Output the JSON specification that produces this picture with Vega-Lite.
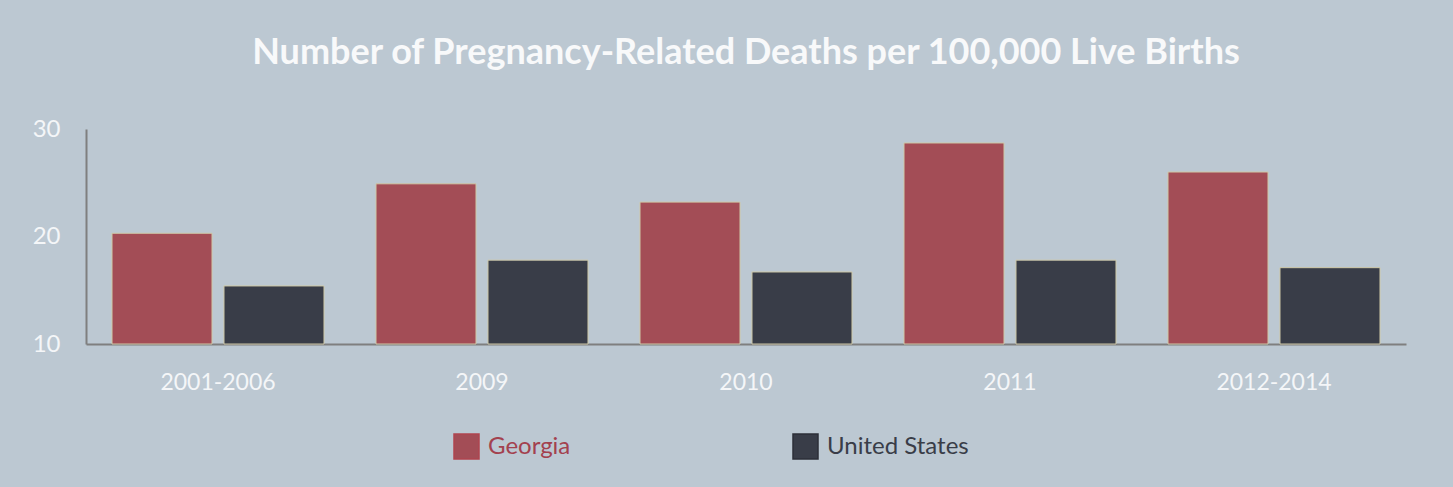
{
  "$schema": "https://vega.github.io/schema/vega-lite/v6.json",
  "autosize": "none",
  "width": 1320,
  "height": 215,
  "padding": {"left": 86, "top": 129, "right": 47, "bottom": 143},
  "background": "#bcc8d2",
  "title": {
    "text": "Number of Pregnancy-Related Deaths per 100,000 Live Births",
    "font": "Lato",
    "fontSize": 36,
    "fontWeight": "bold",
    "color": "#f8f9fa",
    "anchor": "middle",
    "baseline": "alphabetic",
    "offset": 17
  },
  "config": {
    "view": {"stroke": null},
    "font": "Lato"
  },
  "data": {
    "values": [
      {"period": "2001-2006", "region": "Georgia", "rate": 20.3},
      {"period": "2001-2006", "region": "United States", "rate": 15.4},
      {"period": "2009", "region": "Georgia", "rate": 24.9},
      {"period": "2009", "region": "United States", "rate": 17.8},
      {"period": "2010", "region": "Georgia", "rate": 23.2},
      {"period": "2010", "region": "United States", "rate": 16.7},
      {"period": "2011", "region": "Georgia", "rate": 28.7},
      {"period": "2011", "region": "United States", "rate": 17.8},
      {"period": "2012-2014", "region": "Georgia", "rate": 26.0},
      {"period": "2012-2014", "region": "United States", "rate": 17.1}
    ]
  },
  "mark": {"type": "bar", "stroke": "#cfc9a8", "strokeWidth": 1},
  "encoding": {
    "x": {
      "field": "period",
      "type": "nominal",
      "sort": null,
      "scale": {"paddingInner": 0.197, "paddingOuter": 0.0985},
      "axis": {
        "title": null,
        "labelAngle": 0,
        "labelFont": "Lato",
        "labelFontSize": 23,
        "labelColor": "#f4f6f8",
        "labelPadding": 27,
        "ticks": false,
        "domainColor": "#7f7f7f",
        "domainWidth": 2
      }
    },
    "xOffset": {
      "field": "region",
      "type": "nominal",
      "scale": {"paddingInner": 0.107, "paddingOuter": 0}
    },
    "y": {
      "field": "rate",
      "type": "quantitative",
      "scale": {"domain": [10, 30], "zero": false, "nice": false},
      "axis": {
        "title": null,
        "values": [10, 20, 30],
        "grid": false,
        "ticks": false,
        "labelFont": "Lato",
        "labelFontSize": 24,
        "labelColor": "#f4f6f8",
        "labelPadding": 26,
        "domainColor": "#7f7f7f",
        "domainWidth": 2
      }
    },
    "y2": {"datum": 10},
    "color": {
      "field": "region",
      "type": "nominal",
      "scale": {"domain": ["Georgia", "United States"], "range": ["#a34d56", "#393d48"]},
      "legend": {
        "title": null,
        "orient": "none",
        "legendX": 367,
        "legendY": 304,
        "direction": "horizontal",
        "symbolType": "square",
        "symbolSize": 625,
        "symbolStrokeWidth": 1.5,
        "symbolStrokeColor": {"expr": "datum.value == 'Georgia' ? '#b0444f' : '#2c2f38'"},
        "labelFont": "Lato",
        "labelFontSize": 24,
        "labelOffset": 8,
        "labelColor": {"expr": "datum.value == 'Georgia' ? '#a3414e' : '#393d48'"},
        "columnPadding": 219
      }
    }
  }
}
